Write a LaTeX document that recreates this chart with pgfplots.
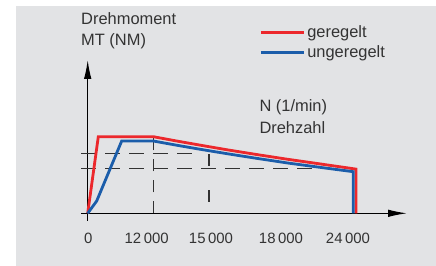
\documentclass[border=0pt]{standalone}
\usepackage{pgfplots}
\pgfplotsset{compat=1.18}
\usetikzlibrary{arrows.meta}
\usepackage{fontspec}
\setmainfont{Liberation Sans}
\definecolor{bggray}{RGB}{226,227,229}
\definecolor{cred}{RGB}{236,40,44}
\definecolor{cblue}{RGB}{27,93,170}
\definecolor{cdash}{RGB}{50,50,50}
\begin{document}
\begin{tikzpicture}
\useasboundingbox (0,0) rectangle (436bp,266bp);
\fill[white] (0,0) rectangle (436bp,266bp);
\fill[bggray] (16bp,0) rectangle (436bp,260bp);
\begin{axis}[
  anchor=origin, at={(87.7bp,52.7bp)},
  x=1bp, y=1bp,
  xmin=-6.7, xmax=319.3, ymin=-7.7, ymax=153.3,
  axis lines=middle,
  axis line style={line width=1.2bp, black, -{Latex[length=19bp,width=7.5bp]}},
  clip=false,
  xtick={0.6,59,123.3,193.3,260.3},
  xticklabels={0,12\,000,15\,000,18\,000,24\,000},
  hide obscured x ticks=false,
  ytick=\empty,
  major tick length=0pt,
  xticklabel style={anchor=base, yshift=-30.7bp, font=\fontsize{15}{18}\selectfont, text=black!80},
  legend style={draw=none, fill=none, at={(axis cs:171.6,190)}, anchor=north west,
    inner sep=0pt, font=\fontsize{16.5}{19}\selectfont, text=black!80, row sep=3bp},
  legend cell align=left,
  legend image code/.code={\draw[#1] (0bp,0bp) -- (43bp,0bp);},
]
% dashed guide lines
\addplot[cdash, line width=1.1bp, dash pattern=on 15bp off 9bp, forget plot] coordinates {(-6.7,60) (106,60)};
\addplot[cdash, line width=1.1bp, dash pattern=on 15bp off 9bp, forget plot] coordinates {(-6.7,45) (236,45)};
\addplot[cdash, line width=1.1bp, dash pattern=on 12bp off 9bp, forget plot] coordinates {(65.6,0) (65.6,76.6)};
\addplot[cdash, line width=1.1bp, dash pattern=on 12bp off 24bp, forget plot] coordinates {(121.3,11.6) (121.3,60.6)};
% curves
\addplot[cred, line width=2.8bp, line join=miter] coordinates {(0,0) (10.6,76.6) (65.6,76.6) (90,72.1) (115,67.7) (140,63.4) (170,58.6) (200,54.0) (235,49.0) (268.3,44.2) (268.3,0)};
\addlegendentry{geregelt}
\addplot[cblue, line width=2.8bp, line join=miter] coordinates {(0,0) (9,12.3) (34,72.3) (65.6,72.3) (90,67.9) (115,63.6) (140,59.5) (170,54.8) (200,50.3) (235,45.6) (265.6,41.6) (265.6,0)};
\addlegendentry{ungeregelt}
% labels
\node[anchor=base west, inner sep=0pt, text=black!80, font=\fontsize{16.5}{19}\selectfont] at (axis cs:-6.7,188.3) {Drehmoment};
\node[anchor=base west, inner sep=0pt, text=black!80, font=\fontsize{16.5}{19}\selectfont] at (axis cs:-6.7,167.3) {MT (NM)};
\node[anchor=base west, inner sep=0pt, text=black!80, font=\fontsize{16.5}{19}\selectfont] at (axis cs:171.6,101.6) {N (1/min)};
\node[anchor=base west, inner sep=0pt, text=black!80, font=\fontsize{16.5}{19}\selectfont] at (axis cs:171.6,79.6) {Drehzahl};
\end{axis}
\end{tikzpicture}
\end{document}
